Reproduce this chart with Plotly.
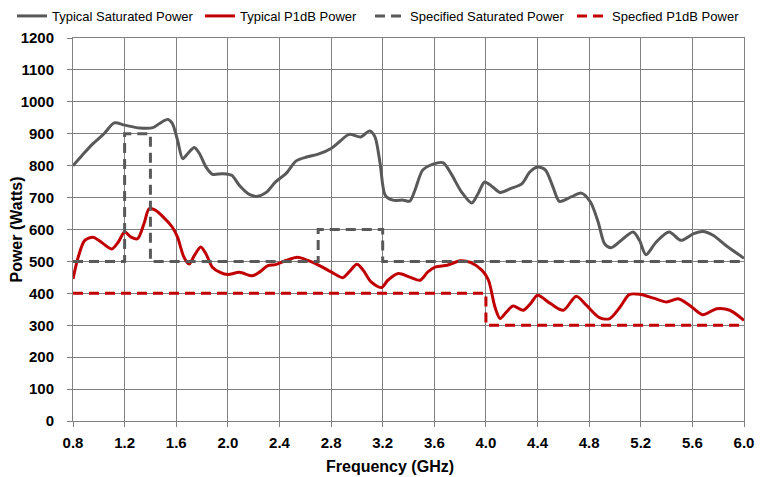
import plotly.graph_objects as go

# Typical saturated power
sat_freq = [0.80, 0.87, 0.955, 1.04, 1.12, 1.20, 1.316, 1.42, 1.47, 1.535, 1.57, 1.61, 1.65, 1.69,
            1.74, 1.78, 1.83, 1.88, 1.96, 2.03, 2.09, 2.17, 2.23, 2.30, 2.37, 2.45, 2.53, 2.61,
            2.70, 2.80, 2.865, 2.94, 3.03, 3.10, 3.14, 3.18, 3.22, 3.28, 3.36, 3.41, 3.45, 3.51,
            3.59, 3.67, 3.73, 3.81, 3.89, 3.94, 3.99, 4.05, 4.11, 4.19, 4.28, 4.34, 4.40, 4.46,
            4.52, 4.57, 4.66, 4.74, 4.81, 4.87, 4.92, 4.97, 5.04, 5.14, 5.19, 5.24, 5.32, 5.42,
            5.51, 5.61, 5.68, 5.76, 5.86, 6.00]
sat_power = [800, 832, 869, 900, 934, 927, 918, 919, 932, 945, 932, 880, 822, 838,
             857, 838, 796, 773, 775, 770, 738, 709, 704, 717, 749, 775, 815, 827,
             836, 854, 875, 898, 890, 909, 890, 807, 707, 692, 692, 689, 723, 786,
             805, 809, 775, 718, 683, 713, 749, 734, 716, 728, 744, 780, 796, 787,
             733, 688, 702, 714, 686, 623, 555, 543, 563, 592, 566, 521, 561, 592,
             566, 587, 594, 582, 550, 510]

# Typical P1dB power
p1_freq = [0.80, 0.84, 0.89, 0.955, 1.02, 1.10, 1.15, 1.20, 1.25, 1.30, 1.35, 1.39, 1.43, 1.50,
           1.57, 1.61, 1.66, 1.70, 1.74, 1.79, 1.83, 1.88, 1.94, 2.00, 2.09, 2.19, 2.25, 2.31,
           2.37, 2.45, 2.54, 2.62, 2.71, 2.80, 2.89, 2.94, 3.00, 3.05, 3.11, 3.19, 3.24, 3.32,
           3.41, 3.49, 3.55, 3.61, 3.70, 3.80, 3.88, 3.97, 4.02, 4.07, 4.11, 4.16, 4.21, 4.29,
           4.35, 4.40, 4.50, 4.60, 4.70, 4.78, 4.88, 4.96, 5.04, 5.11, 5.19, 5.30, 5.40, 5.49,
           5.58, 5.68, 5.79, 5.89, 6.00]
p1_power = [445, 513, 565, 576, 560, 539, 560, 592, 576, 571, 618, 665, 662, 639,
            607, 576, 513, 492, 518, 545, 524, 482, 466, 459, 466, 455, 468, 487,
            490, 503, 513, 503, 487, 467, 449, 467, 491, 472, 436, 418, 441, 462,
            451, 441, 467, 483, 488, 502, 497, 472, 441, 357, 321, 342, 360, 347,
            370, 394, 368, 347, 391, 362, 324, 321, 357, 396, 397, 385, 373, 383,
            362, 333, 352, 347, 315]

# Specified limits
spec_sat_freq = [0.8, 1.2, 1.2, 1.4, 1.4, 2.7, 2.7, 3.2, 3.2, 6.0]
spec_sat_power = [500, 500, 900, 900, 500, 500, 600, 600, 500, 500]
spec_p1_freq = [0.8, 4.0, 4.0, 6.0]
spec_p1_power = [400, 400, 300, 300]

x_ticks = [0.8, 1.2, 1.6, 2.0, 2.4, 2.8, 3.2, 3.6, 4.0, 4.4, 4.8, 5.2, 5.6, 6.0]
x_tick_labels = ["0.8", "1.2", "1.6", "2.0", "2.4", "2.8", "3.2", "3.6", "4.0", "4.4", "4.8", "5.2", "5.6", "6.0"]

GRAY = "#595959"
RED = "#C00000"
DASH = "10px,6px"

fig = go.Figure()
fig.add_trace(go.Scatter(x=sat_freq, y=sat_power, mode="lines", name="Typical Saturated Power",
                         line=dict(color=GRAY, width=3, shape="spline", smoothing=0.8),
                         legend="legend", showlegend=True))
fig.add_trace(go.Scatter(x=p1_freq, y=p1_power, mode="lines", name="Typical P1dB Power",
                         line=dict(color=RED, width=3, shape="spline", smoothing=0.8),
                         legend="legend2", showlegend=True))
fig.add_trace(go.Scatter(x=spec_sat_freq, y=spec_sat_power, mode="lines", name="Specified Saturated Power",
                         line=dict(color=GRAY, width=3, dash=DASH), legend="legend3", showlegend=True))
fig.add_trace(go.Scatter(x=spec_p1_freq, y=spec_p1_power, mode="lines", name="Specfied P1dB Power",
                         line=dict(color=RED, width=3, dash=DASH), legend="legend4", showlegend=True))

tick_font = dict(family="Liberation Sans, Arial, sans-serif", size=15, color="#000000", weight="bold")
title_font = dict(family="Liberation Sans, Arial, sans-serif", size=16, color="#000000", weight="bold")
leg_font = dict(size=13, family="Liberation Sans, Arial, sans-serif", color="#000000")


def leg(xpx):
    return dict(orientation="h", x=xpx / 756, xanchor="left", xref="container",
                y=0.983, yanchor="middle", yref="container", visible=True,
                font=leg_font, itemwidth=30, bgcolor="rgba(0,0,0,0)")


fig.update_layout(
    width=756, height=469,
    showlegend=True,
    margin=dict(l=65, r=20, t=30, b=56, autoexpand=False),
    paper_bgcolor="white", plot_bgcolor="white",
    font=dict(family="Liberation Sans, Arial, sans-serif", color="#000000"),
    legend=leg(4), legend2=leg(192), legend3=leg(362), legend4=leg(564),
    xaxis=dict(range=[0.8, 6.0], tickvals=x_ticks, ticktext=x_tick_labels,
               showgrid=True, gridcolor="#808080", gridwidth=1,
               showline=True, linecolor="#808080", linewidth=1, mirror=True,
               ticks="outside", ticklen=5, tickcolor="#808080", automargin=False,
               tickfont=tick_font, zeroline=False, ticklabelstandoff=3),
    yaxis=dict(range=[0, 1200], dtick=100,
               showgrid=True, gridcolor="#808080", gridwidth=1,
               showline=True, linecolor="#808080", linewidth=1, mirror=True,
               ticks="outside", ticklen=5, tickcolor="#808080", automargin=False,
               tickfont=tick_font, zeroline=False, ticklabelstandoff=10,
               title=dict(text="Power (Watts)", font=title_font, standoff=4)),
    annotations=[dict(text="Frequency (GHz)", xref="paper", yref="paper",
                      x=0.4717, y=-0.1198, xanchor="center", yanchor="middle",
                      showarrow=False, font=title_font)],
)

fig.write_html("out.html")
